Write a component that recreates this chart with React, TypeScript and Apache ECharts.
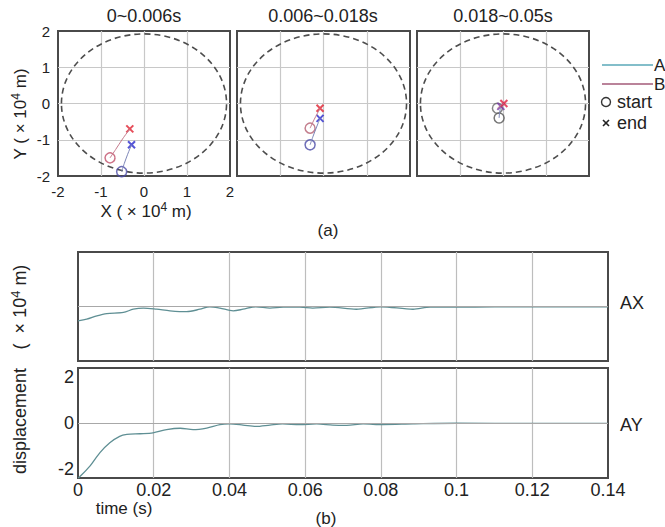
import React, { useEffect, useRef } from "react";
import * as echarts from "echarts";

const FONT = '"Liberation Sans", Arial, Helvetica, sans-serif';

// ---- data: top panels (trajectories, units of 1e-4 m) ----
const panelTitles = ["0~0.006s", "0.006~0.018s", "0.018~0.05s"];
const boundaryCircle = [[0, 0, 1.92]]; // centre x, centre y, radius
const trajA = [
  [[-0.52, -1.88], [-0.46, -1.66], [-0.38, -1.40], [-0.29, -1.14]],
  [[-0.31, -1.14], [-0.24, -0.90], [-0.15, -0.62], [-0.08, -0.41]],
  [[-0.09, -0.40], [-0.08, -0.25], [-0.05, -0.08]],
];
const trajB = [
  [[-0.79, -1.50], [-0.66, -1.27], [-0.50, -0.98], [-0.33, -0.70]],
  [[-0.31, -0.68], [-0.22, -0.45], [-0.14, -0.27], [-0.08, -0.13]],
  [[-0.13, -0.13], [-0.05, -0.05], [0.02, 0.0]],
];

// ---- data: bottom panels (time s, displacement 1e-4 m) ----
const seriesAX = [
  [0, -0.63], [0.0023, -0.56], [0.005, -0.41], [0.0076, -0.31], [0.012, -0.26],
  [0.0146, -0.12], [0.0173, -0.07], [0.0208, -0.12], [0.0243, -0.19], [0.0287, -0.23],
  [0.0322, -0.12], [0.0348, -0.01], [0.0375, -0.07], [0.041, -0.19], [0.0436, -0.12],
  [0.047, -0.01], [0.0507, -0.07], [0.0542, -0.03], [0.0586, -0.03], [0.062, -0.07],
  [0.0665, -0.03], [0.0735, -0.12], [0.08, -0.01], [0.0885, -0.12], [0.093, -0.03],
  [0.1, -0.03], [0.11, -0.02], [0.12, -0.02], [0.13, -0.02], [0.14, -0.02],
];
const seriesAY = [
  [0, -2.4], [0.0005, -2.34], [0.0032, -1.87], [0.0058, -1.29], [0.0084, -0.86],
  [0.011, -0.58], [0.0129, -0.5], [0.0164, -0.47], [0.0198, -0.43], [0.0234, -0.29],
  [0.027, -0.23], [0.0304, -0.29], [0.034, -0.22], [0.0375, -0.07], [0.04, -0.04],
  [0.0436, -0.09], [0.047, -0.15], [0.0507, -0.09], [0.054, -0.04], [0.0586, -0.07],
  [0.063, -0.04], [0.0673, -0.09], [0.071, -0.1], [0.0753, -0.04], [0.0805, -0.07],
  [0.0885, -0.04], [0.1, -0.01], [0.12, -0.02], [0.14, -0.02],
];
const bottomYLabels = [-2, 0, 2];
const bottomNames = ["AX", "AY"];

// ---- styles ----
const startColorA = ["#4b4ba6", "#4b4ba6", "#555555"];
const startColorB = ["#c0506a", "#b45e70", "#666666"];
const endColorA = ["#2a2acc", "#2a2acc", "#7a3aa8"];
const endColorB = ["#e02030", "#e02030", "#e02040"];
const lineColorA = "#7d86b8";
const lineColorB = "#c47a8c";
const timeColor = "#5f8f94";

export default function App() {
  const ref = useRef<HTMLDivElement>(null);
  useEffect(() => {
    if (!ref.current) return;
    const chart = echarts.init(ref.current, null, { renderer: "svg" });

    const topLefts = [58, 237, 417];
    const topWidths = [172, 173, 172];
    const grids: any[] = topLefts.map((l, i) => ({
      left: l, top: 31, width: topWidths[i], height: 145,
      show: true, borderColor: "#4a4a4a", borderWidth: 2, backgroundColor: "#fff",
    }));
    grids.push({ left: 78, top: 252, width: 530, height: 109, show: true, borderColor: "#4a4a4a", borderWidth: 2, backgroundColor: "#fff" });
    grids.push({ left: 78, top: 368, width: 530, height: 110, show: true, borderColor: "#4a4a4a", borderWidth: 2, backgroundColor: "#fff" });

    const xAxes: any[] = [];
    const yAxes: any[] = [];
    for (let i = 0; i < 3; i++) {
      xAxes.push({
        type: "value", gridIndex: i, min: -2, max: 2, interval: 1,
        axisLine: { show: false }, axisTick: { show: false },
        axisLabel: { show: i === 0, fontSize: 15, color: "#222", fontFamily: FONT, margin: 8 },
        splitLine: { show: true, showMinLine: false, showMaxLine: false, lineStyle: { color: "#c8c8c8", width: 1.2 } },
      });
      yAxes.push({
        type: "value", gridIndex: i, min: -2, max: 2, interval: 1,
        axisLine: { show: false }, axisTick: { show: false },
        axisLabel: { show: i === 0, fontSize: 15, color: "#222", fontFamily: FONT, margin: 8 },
        splitLine: { show: true, showMinLine: false, showMaxLine: false, lineStyle: { color: "#c8c8c8", width: 1.2 } },
      });
    }
    for (let j = 0; j < 2; j++) {
      xAxes.push({
        type: "value", gridIndex: 3 + j, min: 0, max: 0.14, interval: 0.02,
        axisLine: { show: false }, axisTick: { show: false },
        axisLabel: { show: j === 1, fontSize: 18, color: "#222", fontFamily: FONT, margin: 3 },
        splitLine: { show: true, showMinLine: false, showMaxLine: false, lineStyle: { color: "#bdbdbd", width: 1.2 } },
      });
      yAxes.push({
        type: "value", gridIndex: 3 + j, min: -2.4, max: 2.4, interval: 0.4,
        axisLine: { show: false }, axisTick: { show: false }, splitLine: { show: false },
        axisLabel: {
          show: j === 1, interval: 0, fontSize: 18, color: "#222", fontFamily: FONT, margin: 4,
          formatter: (v: number) => {
            const hit = bottomYLabels.find((t) => Math.abs(v - t) < 1e-6);
            return hit === undefined ? "" : String(hit);
          },
        },
      });
    }

    const series: any[] = [];
    for (let p = 0; p < 3; p++) {
      series.push({
        type: "custom", xAxisIndex: p, yAxisIndex: p, data: boundaryCircle, silent: true,
        renderItem: (_params: any, api: any) => {
          const c = api.coord([api.value(0), api.value(1)]);
          const s = api.size([api.value(2), api.value(2)]);
          return {
            type: "ellipse",
            shape: { cx: c[0], cy: c[1], rx: s[0], ry: s[1] },
            style: { fill: "none", stroke: "#4d4d4d", lineWidth: 1.6, lineDash: [6, 4] },
          };
        },
      });
      series.push({
        type: "line", xAxisIndex: p, yAxisIndex: p, data: trajA[p], symbol: "none", smooth: 0.3,
        lineStyle: { color: lineColorA, width: 1 },
      });
      series.push({
        type: "line", xAxisIndex: p, yAxisIndex: p, data: trajB[p], symbol: "none", smooth: 0.3,
        lineStyle: { color: lineColorB, width: 1 },
      });
      series.push({
        type: "scatter", xAxisIndex: p, yAxisIndex: p, symbol: "circle", symbolSize: 10,
        itemStyle: { color: "rgba(255,255,255,0)", borderWidth: 1.5 },
        data: [
          { value: trajA[p][0], itemStyle: { borderColor: startColorA[p] } },
          { value: trajB[p][0], itemStyle: { borderColor: startColorB[p] } },
        ],
      });
      series.push({
        type: "scatter", xAxisIndex: p, yAxisIndex: p, symbol: "path://M0,0L10,10M10,0L0,10", symbolSize: 7,
        itemStyle: { color: "rgba(0,0,0,0)", borderWidth: 2 },
        data: [
          { value: trajA[p][trajA[p].length - 1], itemStyle: { borderColor: endColorA[p] } },
          { value: trajB[p][trajB[p].length - 1], itemStyle: { borderColor: endColorB[p] } },
        ],
      });
    }
    [seriesAX, seriesAY].forEach((d, j) => {
      series.push({
        type: "line", name: bottomNames[j], xAxisIndex: 3 + j, yAxisIndex: 3 + j, data: d,
        symbol: "none", smooth: 0.3, lineStyle: { color: timeColor, width: 1.3 },
        markLine: {
          silent: true, symbol: "none", label: { show: false },
          lineStyle: { color: "#a8a8a8", type: "solid", width: 1.2 },
          data: [{ yAxis: 0 }],
        },
      });
    });

    const txt = (x: number, y: number, text: string, size: number, extra: any = {}) => ({
      type: "text", x, y, silent: true, ...extra,
      style: { text, fill: "#222", font: `${size}px ${FONT}`, align: "center", verticalAlign: "middle", ...(extra.style || {}) },
    });
    const supRich = (size: number) => ({
      n: { fontSize: size, fontFamily: FONT, color: "#222", lineHeight: size + 4 },
      s: { fontSize: Math.round(size * 0.72), fontFamily: FONT, color: "#222", verticalAlign: "top", lineHeight: size + 4 },
    });
    const supTxt = (x: number, y: number, pre: string, post: string, size: number, rot = 0) => ({
      type: "text", x, y, silent: true, rotation: rot,
      style: {
        text: `{n|${pre}}{s|4}{n|${post}}`, rich: supRich(size), fill: "#222",
        fontSize: size, fontFamily: FONT, align: "center", verticalAlign: "middle",
      },
    });

    const graphic: any[] = [
      txt(144, 16, panelTitles[0], 18),
      txt(323, 16, panelTitles[1], 18),
      txt(503, 16, panelTitles[2], 18),
      supTxt(20, 114, "Y ( × 10", " m)", 17, Math.PI / 2),
      supTxt(146, 211, "X ( × 10", " m)", 17),
      txt(328, 230, "(a)", 17),
      supTxt(20, 307, "(  × 10", " m)", 18, Math.PI / 2),
      txt(20, 421, "displacement", 18, { rotation: Math.PI / 2 }),
      txt(124, 508, "time (s)", 17),
      txt(326, 518, "(b)", 17),
      txt(620, 303, bottomNames[0], 18, { style: { align: "left" } }),
      txt(620, 425, bottomNames[1], 18, { style: { align: "left" } }),
      // legend
      { type: "line", silent: true, shape: { x1: 602, y1: 65, x2: 653, y2: 65 }, style: { stroke: "#5aa8b8", lineWidth: 1.5 } },
      txt(654, 65, "A", 17, { style: { align: "left" } }),
      { type: "line", silent: true, shape: { x1: 602, y1: 84, x2: 653, y2: 84 }, style: { stroke: "#a35a78", lineWidth: 1.5 } },
      txt(654, 84, "B", 17, { style: { align: "left" } }),
      { type: "circle", silent: true, shape: { cx: 606, cy: 102, r: 4.5 }, style: { fill: "none", stroke: "#333", lineWidth: 1.4 } },
      txt(617, 102, "start", 18, { style: { align: "left" } }),
      { type: "line", silent: true, shape: { x1: 603, y1: 120, x2: 609, y2: 126 }, style: { stroke: "#222", lineWidth: 1.6 } },
      { type: "line", silent: true, shape: { x1: 609, y1: 120, x2: 603, y2: 126 }, style: { stroke: "#222", lineWidth: 1.6 } },
      txt(617, 123, "end", 18, { style: { align: "left" } }),
    ];

    chart.setOption({
      animation: false,
      backgroundColor: "#fff",
      grid: grids,
      xAxis: xAxes,
      yAxis: yAxes,
      series,
      graphic,
    });
    return () => chart.dispose();
  }, []);

  return (
    <div
      ref={ref}
      style={{ position: "absolute", left: 0, top: 0, width: 665, height: 527, background: "#fff" }}
    />
  );
}
